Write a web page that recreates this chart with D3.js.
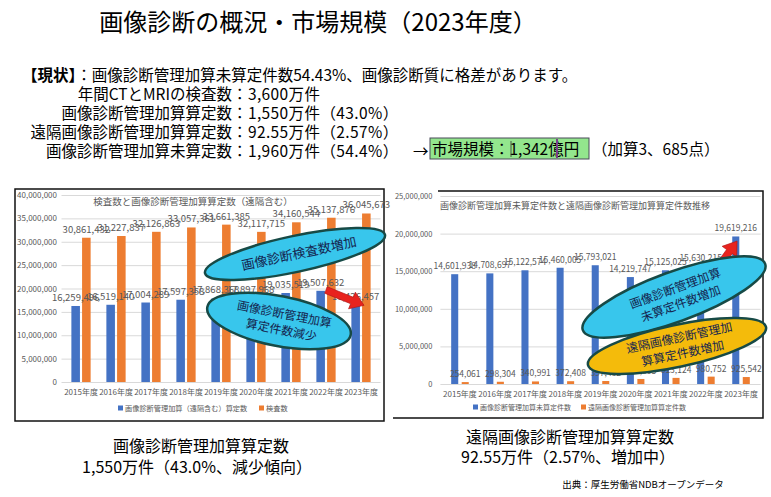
<!DOCTYPE html>
<html>
<head>
<meta charset="utf-8">
<script src="https://cdn.jsdelivr.net/npm/d3@7"></script>
<style>
body{margin:0;background:#fff;}
svg{font-family:"Noto Sans CJK JP","Noto Sans",sans-serif;}
</style>
</head>
<body>
<svg id="uno"></svg>
<script>
// datos (NDBオープンデータ)
let anios=["2015年度","2016年度","2017年度","2018年度","2019年度","2020年度","2021年度","2022年度","2023年度"];
let santeiTotal=[16259496,16519140,17004289,17597358,17868368,17897968,19035519,19507632,16426457];
let kensa=[30861432,31227837,32126863,33057361,33661385,32117715,34160544,35137876,36045673];
let misantei=[14601938,14708697,15122574,15460005,15793021,14219747,15125025,15630215,19619216];
let enkaku=[254061,298304,340991,372408,397432,669805,813124,980752,925542];
let ticksIzq=[0,5000000,10000000,15000000,20000000,25000000,30000000,35000000,40000000];
let ticksDer=[0,5000000,10000000,15000000,20000000,25000000];

let etiquetas=["年間CTとMRIの検査数","画像診断管理加算算定数","遠隔画像診断管理加算算定数","画像診断管理加算未算定数"];
let valores=["3,600万件","1,550万件（43.0%）","92.55万件（2.57%）","1,960万件（54.4%）"];

const azul="#4472C4", naranja="#ED7D31", gris="#595959";
const fmt=d3.format(",");

let misvg=d3.select("#uno")
.attr("width",771)
.attr("height",497)

// titulo
misvg.append("text")
.attr("x",318).attr("y",31)
.attr("text-anchor","middle")
.attr("font-size",24)
.text("画像診断の概況・市場規模（2023年度）")

// texto de estado
let l1=misvg.append("text").attr("x",22).attr("y",81).attr("font-size",15.5)
l1.append("tspan").attr("font-weight","bold").text("【現状】")
l1.append("tspan").text("：画像診断管理加算未算定件数54.43%、画像診断質に格差があります。")

etiquetas.forEach((t,i)=>{
  misvg.append("text").attr("x",232).attr("y",100+i*19).attr("font-size",15.5)
  .attr("text-anchor","end").text(t)
  misvg.append("text").attr("x",232).attr("y",100+i*19).attr("font-size",15.5)
  .attr("letter-spacing",0.4)
  .text("："+valores[i])
})
misvg.append("text").attr("x",413).attr("y",157).attr("font-size",15.5).text("→")

// caja verde
misvg.append("rect").attr("x",430).attr("y",138).attr("width",159).attr("height",21)
.attr("fill","#93E68D").attr("stroke","#4a4a5a").attr("stroke-width",1)
misvg.append("text").attr("x",432).attr("y",155).attr("font-size",15.5).text("市場規模：1,342億円")
misvg.append("line").attr("x1",511).attr("x2",511).attr("y1",141).attr("y2",157).attr("stroke","#333").attr("stroke-width",0.8)
misvg.append("rect").attr("x",556).attr("y",139).attr("width",2).attr("height",19).attr("fill","#7b3f8c")
misvg.append("text").attr("x",592).attr("y",155).attr("font-size",15.5).text("（加算3、685点）")

function dibujar(cfg){
  let g=misvg.append("g")
  let y=d3.scaleLinear().domain([0,cfg.max]).range([cfg.y0,cfg.y1])
  let x0=d3.scaleBand().domain(anios).range([cfg.xa,cfg.xb]).paddingInner(cfg.pIn).paddingOuter(cfg.pIn/2)
  let x1=d3.scaleBand().domain(d3.range(cfg.series.length)).range([0,x0.bandwidth()]).paddingInner(cfg.pSub)

  // eje y + grilla
  let ya=g.append("g")
  .attr("transform",`translate(${cfg.xa-2},0)`)
  .call(d3.axisLeft(y).tickValues(cfg.ticks).tickFormat(fmt).tickSize(-(cfg.xb-cfg.xa+4)).tickPadding(cfg.tp))
  .attr("font-family","Noto Sans CJK JP, Noto Sans").attr("font-size",cfg.fy)
  ya.select(".domain").remove()
  ya.selectAll("line").attr("stroke","#d9d9d9")
  ya.selectAll("text").attr("fill",gris)

  // eje x
  let xa=g.append("g")
  .attr("transform",`translate(0,${cfg.y0})`)
  .call(d3.axisBottom(x0).tickSize(0).tickPadding(7))
  .attr("font-family","Noto Sans CJK JP, Noto Sans").attr("font-size",8)
  xa.select(".domain").attr("stroke","#d9d9d9")
  xa.selectAll("text").attr("fill",gris)

  // barras + etiquetas
  cfg.series.forEach((s,i)=>{
    g.selectAll(null)
    .data(s.vals)
    .enter()
    .append("rect")
    .attr("x",(d,j)=>x0(anios[j])+x1(i))
    .attr("y",d=>y(d))
    .attr("width",x1.bandwidth())
    .attr("height",d=>y(0)-y(d))
    .attr("fill",s.color)
  })
  cfg.series.forEach((s,i)=>{
    g.selectAll(null)
    .data(s.vals)
    .enter()
    .append("text")
    .attr("x",(d,j)=>x0(anios[j])+x1(i)+x1.bandwidth()/2)
    .attr("y",d=>y(d)-5)
    .attr("text-anchor","middle")
    .attr("font-size",cfg.fl)
    .attr("fill",gris)
    .text(d=>fmt(d))
  })

  // titulo del grafico
  g.append("text").attr("x",cfg.tx).attr("y",cfg.ty).attr("text-anchor","middle")
  .attr("font-size",cfg.ft).attr("fill",gris).text(cfg.titulo)

  // leyenda
  cfg.series.forEach((s,i)=>{
    g.append("rect").attr("x",cfg.leg[i]).attr("y",cfg.ly-2.5).attr("width",5).attr("height",5).attr("fill",s.color)
    g.append("text").attr("x",cfg.leg[i]+7).attr("y",cfg.ly+2.5).attr("font-size",cfg.fleg).attr("fill",gris).text(s.nombre)
  })
}

// marco izquierdo
misvg.append("rect").attr("x",15).attr("y",189).attr("width",369).attr("height",232)
.attr("fill","#fff").attr("stroke","#111").attr("stroke-width",1.5)

dibujar({
  max:40000000,ticks:ticksIzq,y0:382,y1:195,xa:63.5,xb:378.5,pIn:0.45,pSub:0.2,tp:4.5,
  fy:8,fl:9.5,ft:9.5,fleg:7.2,
  series:[{vals:santeiTotal,color:azul,nombre:"画像診断管理加算（遠隔含む）算定数"},{vals:kensa,color:naranja,nombre:"検査数"}],
  titulo:"検査数と画像診断管理加算算定数（遠隔含む）",tx:193,ty:205,
  leg:[118,259],ly:408
})

// marco derecho
misvg.append("path").attr("d","M438,191H763V418H393")
.attr("fill","none").attr("stroke","#111").attr("stroke-width",1.5)

dibujar({
  max:25000000,ticks:ticksDer,y0:384,y1:196,xa:442.4,xb:758.6,pIn:0.5,pSub:0.33,tp:8,
  fy:7.5,fl:8.5,ft:9,fleg:7,
  series:[{vals:misantei,color:azul,nombre:"画像診断管理加算未算定件数"},{vals:enkaku,color:naranja,nombre:"遠隔画像診断管理加算算定件数"}],
  titulo:"画像診断管理加算未算定件数と遠隔画像診断管理加算算定件数推移",tx:575,ty:209,
  leg:[473,581],ly:407
})

// flechas rojas
function flecha(x,y,ang,largo){
  let L=largo
  misvg.append("path")
  .attr("d",`M0,-3.5H${L-13}V-9L${L},0L${L-13},9V3.5H0Z`)
  .attr("transform",`translate(${x},${y}) rotate(${ang})`)
  .attr("fill","#E8231E").attr("stroke","#b01515").attr("stroke-width",0.6)
}

// elipses
function elipse(cx,cy,rx,ry,ang,color,lineas,fs){
  let g=misvg.append("g").attr("transform",`translate(${cx},${cy}) rotate(${ang})`)
  g.append("ellipse").attr("rx",rx).attr("ry",ry).attr("fill",color)
  .attr("stroke","#174a46").attr("stroke-width",2.5)
  lineas.forEach((t,i)=>{
    g.append("text").attr("x",4).attr("y",(i-(lineas.length-1)/2)*fs*1.35+fs*0.38)
    .attr("text-anchor","middle").attr("font-size",fs).attr("fill","#15254f")
    .text(t)
  })
}

flecha(326,290,22,41)
elipse(295,254,92,18,-12,"#38C6EC",["画像診断検査数増加"],13)
elipse(279,321,73,25,11,"#38C6EC",["画像診断管理加算","算定件数減少"],12)

flecha(703,288,-54,58)
elipse(674,297,97,25,-20,"#38C6EC",["画像診断管理加算","未算定件数増加"],12)
elipse(677,346,91,21,-12,"#F4BB0B",["遠隔画像診断管理加","算算定件数増加"],12)

// textos inferiores
misvg.append("text").attr("x",201).attr("y",452).attr("text-anchor","middle").attr("font-size",16).text("画像診断管理加算算定数")
misvg.append("text").attr("x",197).attr("y",473).attr("text-anchor","middle").attr("font-size",16).text("1,550万件（43.0%、減少傾向）")
misvg.append("text").attr("x",570).attr("y",443).attr("text-anchor","middle").attr("font-size",16).text("遠隔画像診断管理加算算定数")
misvg.append("text").attr("x",568).attr("y",463).attr("text-anchor","middle").attr("font-size",16).text("92.55万件（2.57%、増加中）")
misvg.append("text").attr("x",643).attr("y",488).attr("text-anchor","middle").attr("font-size",9.5).text("出典：厚生労働省NDBオープンデータ")
</script>
</body>
</html>
